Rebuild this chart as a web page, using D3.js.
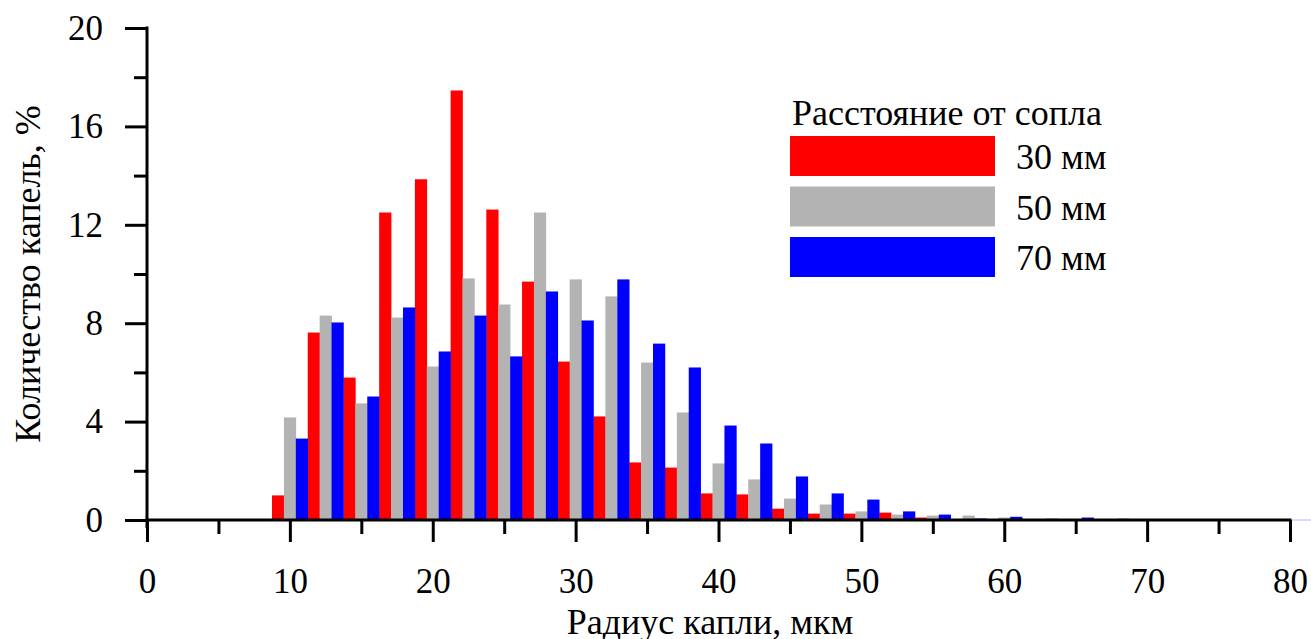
<!DOCTYPE html>
<html>
<head>
<meta charset="utf-8">
<script src="https://cdn.jsdelivr.net/npm/d3@7"></script>
<style>
  html, body { margin: 0; padding: 0; background: #fff; }
  svg { display: block; }
  text { font-family: "Liberation Serif", "Times New Roman", "DejaVu Serif", serif; fill: #000; }
</style>
</head>
<body>
<svg id="chart" width="1311" height="639"></svg>
<script>
// ---- data ----
const bins = [10, 12.5, 15, 17.5, 20, 22.5, 25, 27.5, 30, 32.5, 35, 37.5, 40, 42.5, 45, 47.5, 50, 52.5, 55, 57.5, 60, 62.5, 65, 67.5];
const seriesNames = ["30 мм", "50 мм", "70 мм"];
const seriesColors = ["#ff0000", "#b3b3b3", "#0000ff"];
const red30  = [1.0, 7.62, 5.79, 12.5, 13.85, 17.46, 12.62, 9.69, 6.44, 4.21, 2.34, 2.13, 1.08, 1.04, 0.46, 0.26, 0.26, 0.3, 0.1, 0.02, 0.01, 0.01, 0, 0];
const gray50 = [4.17, 8.31, 4.74, 8.23, 6.24, 9.82, 8.76, 12.5, 9.78, 9.09, 6.4, 4.37, 2.3, 1.65, 0.87, 0.63, 0.35, 0.22, 0.18, 0.18, 0.1, 0.04, 0.03, 0.02];
const blue70 = [3.31, 8.03, 5.02, 8.64, 6.85, 8.31, 6.65, 9.29, 8.11, 9.78, 7.17, 6.2, 3.84, 3.11, 1.77, 1.08, 0.83, 0.35, 0.22, 0.06, 0.13, 0.05, 0.1, 0.05];
const xMajorTicks = [0, 10, 20, 30, 40, 50, 60, 70, 80];
const xMinorTicks = [5, 15, 25, 35, 45, 55, 65, 75];
const yMajorTicks = [0, 4, 8, 12, 16, 20];
const yMinorTicks = [2, 6, 10, 14, 18];
const binWidth = 2.5;
const xTitle = "Радиус капли, мкм";
const yTitle = "Количество капель, %";
const legendTitle = "Расстояние от сопла";

// ---- layout ----
const svg = d3.select("#chart");
const W = 1311, H = 639;
const x = d3.scaleLinear().domain([0, 80]).range([147, 1290]);
const y = d3.scaleLinear().domain([0, 20]).range([520, 28]);
const FS_TICK = 35;
const FS = 36;

const series = [red30, gray50, blue70];
const barW = binWidth / series.length;

// bars
const gBars = svg.append("g");
series.forEach((vals, si) => {
  gBars.selectAll(null)
    .data(bins.map((b, i) => ({ b, v: vals[i] })))
    .join("rect")
    .attr("x", d => x(d.b - binWidth / 2 + si * barW))
    .attr("width", x(barW) - x(0) + 0.3)
    .attr("y", d => y(d.v))
    .attr("height", d => y(0) - y(d.v))
    .attr("fill", seriesColors[si]);
});

// faint baseline continuation
svg.append("line")
  .attr("x1", x(80) + 2).attr("x2", W)
  .attr("y1", y(0)).attr("y2", y(0))
  .attr("stroke", "#b8b8ff").attr("stroke-width", 1);

// X axis
const gx = svg.append("g").attr("transform", `translate(0,${y(0)})`);
gx.call(d3.axisBottom(x).tickValues(xMajorTicks).tickSize(22).tickSizeOuter(0).tickPadding(26).tickFormat(d3.format("d")));
const gxm = svg.append("g").attr("transform", `translate(0,${y(0)})`);
gxm.call(d3.axisBottom(x).tickValues(xMinorTicks).tickSize(14).tickSizeOuter(0).tickFormat(""));
[gx, gxm].forEach(g => {
  g.attr("font-family", null);
  g.select(".domain").remove();
  g.selectAll(".tick line").attr("stroke", "#000").attr("stroke-width", 3);
});
gx.selectAll(".tick text").attr("font-size", FS_TICK);
svg.append("line")
  .attr("x1", x(0) - 1.5).attr("x2", x(80) + 1.5)
  .attr("y1", y(0)).attr("y2", y(0))
  .attr("stroke", "#000").attr("stroke-width", 3);

// Y axis
const gy = svg.append("g").attr("transform", `translate(${x(0)},0)`);
gy.call(d3.axisLeft(y).tickValues(yMajorTicks).tickSize(22).tickSizeOuter(0).tickPadding(22).tickFormat(d3.format("d")));
const gym = svg.append("g").attr("transform", `translate(${x(0)},0)`);
gym.call(d3.axisLeft(y).tickValues(yMinorTicks).tickSize(13).tickSizeOuter(0).tickFormat(""));
[gy, gym].forEach(g => {
  g.attr("font-family", null);
  g.select(".domain").remove();
  g.selectAll(".tick line").attr("stroke", "#000").attr("stroke-width", 3);
});
gy.selectAll(".tick text").attr("font-size", FS_TICK);
svg.append("line")
  .attr("x1", x(0)).attr("x2", x(0))
  .attr("y1", y(20) - 1.5).attr("y2", y(0) + 8)
  .attr("stroke", "#000").attr("stroke-width", 3);

// titles
svg.append("text")
  .attr("x", 710)
  .attr("y", 634)
  .attr("text-anchor", "middle")
  .attr("font-size", FS)
  .text(xTitle);

svg.append("text")
  .attr("transform", `translate(40,${(y(0) + y(20)) / 2}) rotate(-90)`)
  .attr("text-anchor", "middle")
  .attr("font-size", FS)
  .text(yTitle);

// legend
const lg = svg.append("g");
lg.append("text").attr("x", 792).attr("y", 125).attr("font-size", FS).text(legendTitle);
seriesNames.forEach((name, i) => {
  const top = 136 + i * 50.5;
  lg.append("rect").attr("x", 790).attr("y", top).attr("width", 205).attr("height", 40).attr("fill", seriesColors[i]);
  lg.append("text").attr("x", 1016).attr("y", top + 33).attr("font-size", FS).text(name);
});
</script>
</body>
</html>
